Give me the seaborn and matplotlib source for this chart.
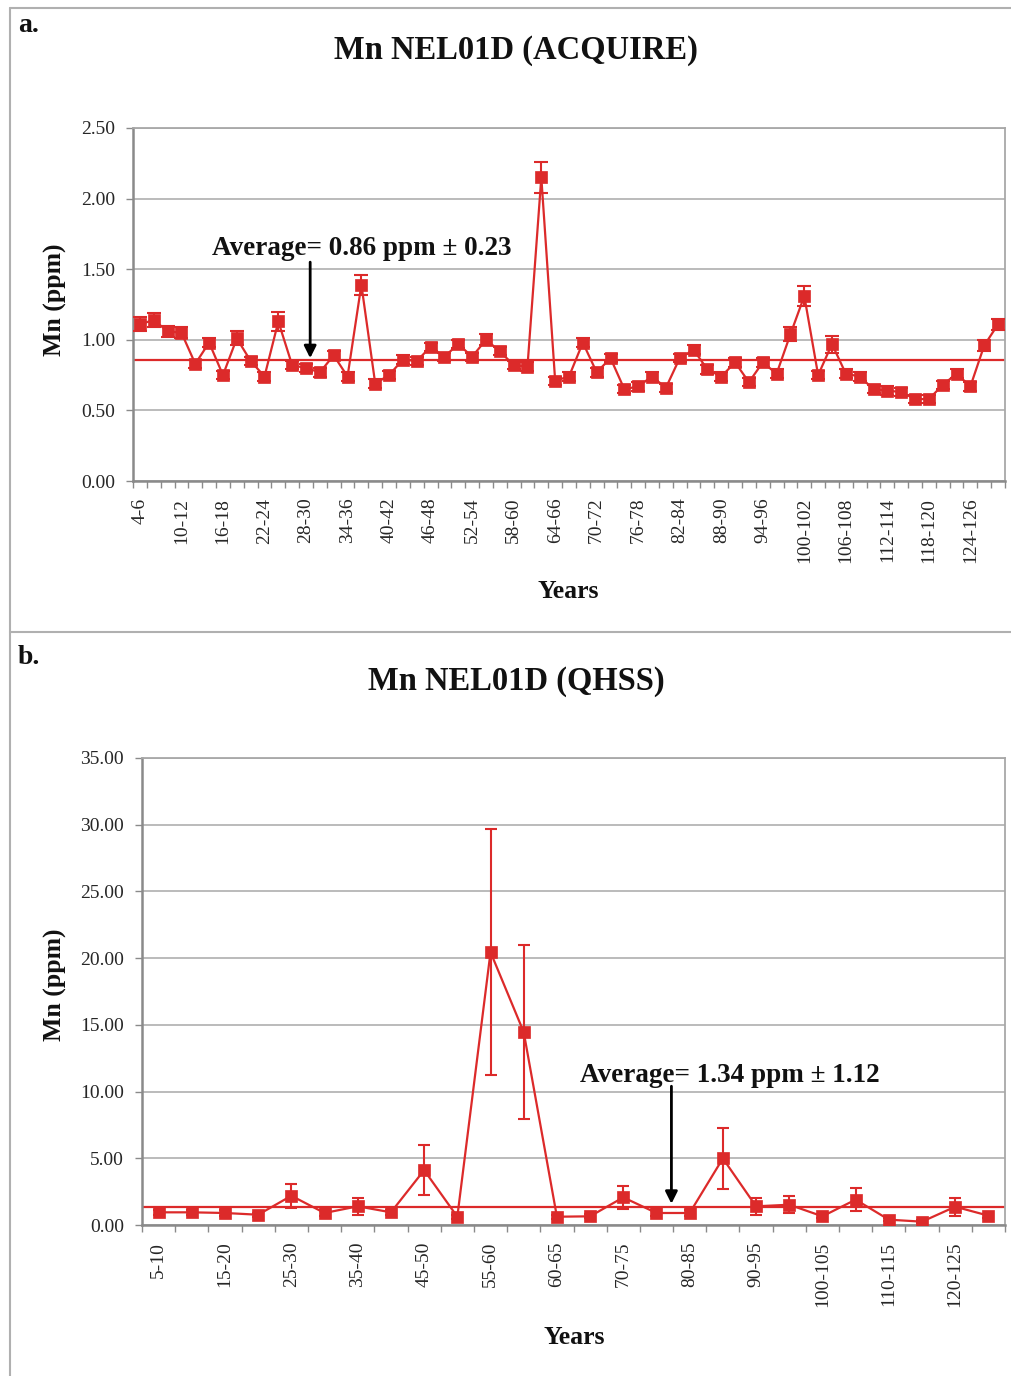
import numpy as np
import pandas as pd
import seaborn as sns
import matplotlib
matplotlib.use("Agg")
import matplotlib.pyplot as plt
from matplotlib.lines import Line2D
from matplotlib.ticker import FixedLocator, NullFormatter, FormatStrFormatter

# ---------------- data: panel a (ACQUIRE) ----------------
years_a = [
    "4-6", "6-8", "8-10", "10-12", "12-14", "14-16", "16-18", "18-20", "20-22",
    "22-24", "24-26", "26-28", "28-30", "30-32", "32-34", "34-36", "36-38",
    "38-40", "40-42", "42-44", "44-46", "46-48", "48-50", "50-52", "52-54",
    "54-56", "56-58", "58-60", "60-62", "62-64", "64-66", "66-68", "68-70",
    "70-72", "72-74", "74-76", "76-78", "78-80", "80-82", "82-84", "84-86",
    "86-88", "88-90", "90-92", "92-94", "94-96", "96-98", "98-100", "100-102",
    "102-104", "104-106", "106-108", "108-110", "110-112", "112-114",
    "114-116", "116-118", "118-120", "120-122", "122-124", "124-126",
    "126-128", "128-130",
]
mn_a = [
    1.11, 1.14, 1.06, 1.05, 0.83, 0.98, 0.75, 1.01, 0.85, 0.74,
    1.13, 0.82, 0.80, 0.77, 0.89, 0.74, 1.39, 0.69, 0.75, 0.86,
    0.85, 0.95, 0.88, 0.97, 0.88, 1.00, 0.92, 0.82, 0.81, 2.15,
    0.71, 0.74, 0.98, 0.77, 0.87, 0.65, 0.67, 0.74, 0.66, 0.87,
    0.93, 0.79, 0.74, 0.84, 0.70, 0.84, 0.76, 1.04, 1.31, 0.75,
    0.97, 0.76, 0.74, 0.65, 0.64, 0.63, 0.58, 0.58, 0.68, 0.76,
    0.67, 0.96, 1.11,
]
err_a = [
    0.05, 0.05, 0.04, 0.04, 0.03, 0.03, 0.03, 0.05, 0.03, 0.03,
    0.07, 0.03, 0.03, 0.03, 0.03, 0.03, 0.07, 0.03, 0.03, 0.03,
    0.03, 0.03, 0.03, 0.03, 0.03, 0.04, 0.03, 0.03, 0.03, 0.11,
    0.03, 0.03, 0.03, 0.03, 0.03, 0.03, 0.03, 0.03, 0.03, 0.03,
    0.03, 0.03, 0.03, 0.03, 0.03, 0.03, 0.03, 0.05, 0.07, 0.03,
    0.06, 0.03, 0.03, 0.03, 0.03, 0.03, 0.03, 0.03, 0.03, 0.03,
    0.03, 0.04, 0.04,
]
avg_a, sd_a = 0.86, 0.23

# ---------------- data: panel b (QHSS) ----------------
years_b = [
    "5-10", "10-15", "15-20", "20-25", "25-30", "30-35", "35-40", "40-45",
    "45-50", "50-55", "55-60", "57-60", "60-65", "65-70", "70-75", "75-80",
    "80-85", "85-90", "90-95", "95-100", "100-105", "105-110", "110-115",
    "115-120", "120-125", "125-130",
]
mn_b = [
    0.95, 0.95, 0.90, 0.77, 2.19, 0.90, 1.40, 0.95, 4.11, 0.62,
    20.45, 14.46, 0.62, 0.65, 2.07, 0.90, 0.90, 4.99, 1.40, 1.52,
    0.65, 1.90, 0.40, 0.25, 1.37, 0.70,
]
err_b = [
    0.20, 0.20, 0.20, 0.15, 0.90, 0.20, 0.62, 0.20, 1.85, 0.15,
    9.20, 6.50, 0.15, 0.15, 0.87, 0.20, 0.20, 2.27, 0.62, 0.65,
    0.15, 0.88, 0.10, 0.10, 0.66, 0.15,
]
avg_b, sd_b = 1.34, 1.12

# ---------------- styling ----------------
sns.set_theme(style="white")
plt.rcParams["font.family"] = ["Liberation Serif", "DejaVu Serif"]
RED = "#dc2a2a"
GRID = "#a8a8a8"
SPINE = "#8a8a8a"

W, H = 1011, 1376
fig = plt.figure(figsize=(W / 100, H / 100), dpi=100)


def fx(px):
    return px / W


def fy(py):
    return 1 - py / H


def axes_box(left, top, right, bottom):
    return [fx(left), fy(bottom), fx(right) - fx(left), fy(top) - fy(bottom)]


def draw_panel(ax, labels, values, errors, avg, label_step, ylim, ystep,
               msize, cap):
    pos = np.arange(len(labels))
    df = pd.DataFrame({"pos": pos, "mn": values})
    ax.errorbar(pos, values, yerr=errors, fmt="none", ecolor=RED,
                elinewidth=1.5, capsize=cap, capthick=1.5, zorder=3)
    sns.lineplot(data=df, x="pos", y="mn", ax=ax, color=RED, marker="s",
                 markersize=msize, markeredgecolor=RED, markeredgewidth=0.5,
                 linewidth=1.6, zorder=4)
    ax.axhline(avg, color=RED, lw=1.6, zorder=2)

    ax.set_xlim(-0.5, len(labels) - 0.5)
    ax.set_ylim(*ylim)
    yt = np.arange(ylim[0], ylim[1] + ystep / 2, ystep)
    ax.set_yticks(yt)
    ax.yaxis.set_major_formatter(FormatStrFormatter("%.2f"))
    ax.grid(axis="y", color=GRID, lw=1.1)
    ax.grid(axis="x", visible=False)
    ax.set_axisbelow(True)

    major = pos[::label_step]
    ax.xaxis.set_major_locator(FixedLocator(major))
    ax.set_xticklabels([labels[i] for i in major], rotation=90,
                       fontsize=14, va="top")
    ax.xaxis.set_minor_locator(FixedLocator(np.arange(-0.5, len(labels), 1.0)))
    ax.xaxis.set_minor_formatter(NullFormatter())
    ax.tick_params(axis="x", which="major", length=0, pad=12)
    ax.tick_params(axis="x", which="minor", length=5, width=1, color=SPINE,
                   direction="out", bottom=True)
    ax.tick_params(axis="y", length=5, width=1, color=SPINE, direction="out",
                   left=True, labelsize=14, pad=8)
    for side in ["top", "right"]:
        ax.spines[side].set_color(GRID)
        ax.spines[side].set_linewidth(1.3)
    for side in ["left", "bottom"]:
        ax.spines[side].set_color(SPINE)
        ax.spines[side].set_linewidth(1.8)
    ax.set_xlabel("")
    ax.set_ylabel("")


# panel a
ax_a = fig.add_axes(axes_box(133, 128, 1005, 481))
draw_panel(ax_a, years_a, mn_a, err_a, avg_a, 3, (0, 2.5), 0.5, 9.0, 5)
ax_a.text(16.0, 1.65, f"Average= {avg_a:.2f} ppm \u00b1 {sd_a:.2f}",
          ha="center", va="center", fontsize=19.5, fontweight="bold",
          color="#111111")
ax_a.annotate("", xy=(12.3, avg_a + 0.01), xytext=(12.3, 1.55),
              arrowprops=dict(arrowstyle="-|>", color="black", lw=2,
                              mutation_scale=18, shrinkA=0, shrinkB=0))

# panel b
ax_b = fig.add_axes(axes_box(142, 758, 1005, 1225))
draw_panel(ax_b, years_b, mn_b, err_b, avg_b, 2, (0, 35), 5, 8.5, 4)
ax_b.text(17.2, 11.2, f"Average= {avg_b:.2f} ppm \u00b1 {sd_b:.2f}",
          ha="center", va="center", fontsize=19.5, fontweight="bold",
          color="#111111")
ax_b.annotate("", xy=(15.45, avg_b + 0.25), xytext=(15.45, 10.4),
              arrowprops=dict(arrowstyle="-|>", color="black", lw=2,
                              mutation_scale=18, shrinkA=0, shrinkB=0))

# titles, panel letters and axis titles
bold = dict(fontweight="bold", color="#111111")
fig.text(fx(516), fy(50), "Mn NEL01D (ACQUIRE)", ha="center", va="center",
         fontsize=23.5, **bold)
fig.text(fx(516), fy(681), "Mn NEL01D (QHSS)", ha="center", va="center",
         fontsize=23.5, **bold)
fig.text(fx(18), fy(25), "a.", ha="left", va="center", fontsize=20, **bold)
fig.text(fx(18), fy(657), "b.", ha="left", va="center", fontsize=20, **bold)
fig.text(fx(568), fy(592), "Years", ha="center", va="center", fontsize=18.5,
         **bold)
fig.text(fx(574), fy(1337), "Years", ha="center", va="center", fontsize=18.5,
         **bold)
fig.text(fx(55), fy(300), "Mn (ppm)", ha="center", va="center",
         rotation=90, fontsize=18.5, **bold)
fig.text(fx(55), fy(985), "Mn (ppm)", ha="center", va="center",
         rotation=90, fontsize=18.5, **bold)

# chart-area frames
frame = dict(color="#b0b0b0", lw=1.5)
fig.add_artist(Line2D([fx(10), fx(10)], [fy(8), fy(1376)], **frame))
fig.add_artist(Line2D([fx(10), fx(1011)], [fy(8), fy(8)], **frame))
fig.add_artist(Line2D([fx(10), fx(1011)], [fy(632), fy(632)], **frame))

fig.savefig("out.png", dpi=100, facecolor="white")
